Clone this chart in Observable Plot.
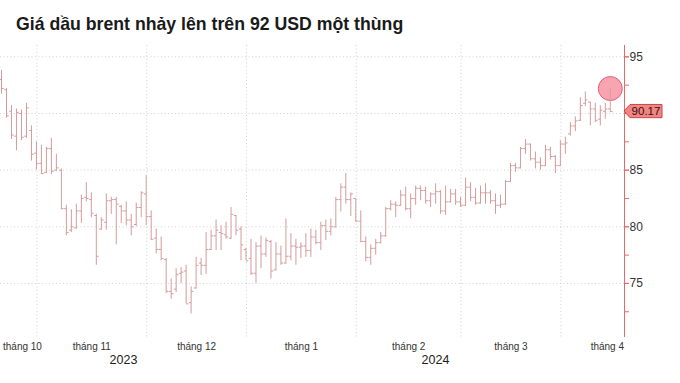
<!DOCTYPE html>
<html><head><meta charset="utf-8">
<script src="https://cdn.jsdelivr.net/npm/d3@7"></script>
<script src="https://cdn.jsdelivr.net/npm/@observablehq/plot@0.6"></script>
<style>
body{margin:0;background:#fff;width:680px;height:383px;overflow:hidden;font-family:"Liberation Sans",Arial,sans-serif}
#title{height:42px;box-sizing:border-box;padding:14px 0 0 16px;font-weight:bold;font-size:17.7px;line-height:20px;color:#1a1a1a;white-space:nowrap}
#chart svg{display:block}
</style></head><body>
<div id="title">Giá dầu brent nhảy lên trên 92 USD một thùng</div>
<div id="chart"></div>
<script>
const dates = [
"2023-10-20","2023-10-23","2023-10-24","2023-10-25","2023-10-26","2023-10-27","2023-10-30","2023-10-31",
"2023-11-01","2023-11-02","2023-11-03","2023-11-06","2023-11-07","2023-11-08","2023-11-09","2023-11-10","2023-11-13","2023-11-14","2023-11-15","2023-11-16","2023-11-17","2023-11-20","2023-11-21","2023-11-22","2023-11-23","2023-11-24","2023-11-27","2023-11-28","2023-11-29","2023-11-30",
"2023-12-01","2023-12-04","2023-12-05","2023-12-06","2023-12-07","2023-12-08","2023-12-11","2023-12-12","2023-12-13","2023-12-14","2023-12-15","2023-12-18","2023-12-19","2023-12-20","2023-12-21","2023-12-22","2023-12-26","2023-12-27","2023-12-28","2023-12-29",
"2024-01-02","2024-01-03","2024-01-04","2024-01-05","2024-01-08","2024-01-09","2024-01-10","2024-01-11","2024-01-12","2024-01-15","2024-01-16","2024-01-17","2024-01-18","2024-01-19","2024-01-22","2024-01-23","2024-01-24","2024-01-25","2024-01-26","2024-01-29","2024-01-30","2024-01-31",
"2024-02-01","2024-02-02","2024-02-05","2024-02-06","2024-02-07","2024-02-08","2024-02-09","2024-02-12","2024-02-13","2024-02-14","2024-02-15","2024-02-16","2024-02-19","2024-02-20","2024-02-21","2024-02-22","2024-02-23","2024-02-26","2024-02-27","2024-02-28","2024-02-29",
"2024-03-01","2024-03-04","2024-03-05","2024-03-06","2024-03-07","2024-03-08","2024-03-11","2024-03-12","2024-03-13","2024-03-14","2024-03-15","2024-03-18","2024-03-19","2024-03-20","2024-03-21","2024-03-22","2024-03-25","2024-03-26","2024-03-27","2024-03-28",
"2024-04-01","2024-04-02","2024-04-03","2024-04-04","2024-04-05","2024-04-08","2024-04-09","2024-04-10","2024-04-11","2024-04-12"];

const opens = [93.0,92.1,90.2,88.0,90.0,88.0,88.5,86.5,
85.6,84.8,86.9,85.0,85.0,81.6,79.7,79.9,81.4,82.6,82.4,81.0,79.8,80.4,82.3,82.4,81.8,81.4,80.6,80.2,81.7,82.9,
80.9,79.0,78.0,77.1,74.3,74.5,75.9,76.1,73.3,74.6,76.8,76.6,78.0,79.2,79.5,79.3,79.0,81.0,79.8,78.0,
77.2,75.9,78.3,77.6,78.7,76.2,77.6,76.8,77.4,78.3,78.2,78.3,77.9,79.1,78.6,80.1,79.6,80.0,82.4,83.5,82.4,82.5,
80.5,78.7,77.3,78.1,78.6,79.2,81.6,82.0,81.9,82.8,81.6,82.5,83.4,83.2,82.3,82.9,83.1,81.4,82.2,82.9,82.2,
81.9,83.5,82.6,82.1,83.0,83.0,82.3,81.9,82.0,84.0,85.4,85.2,86.9,87.3,86.0,85.7,85.4,86.8,86.2,85.4,
87.3,88.2,88.9,89.4,90.9,91.0,90.4,89.5,90.2,90.4];

const highs = [93.8,92.2,90.7,90.4,90.3,90.9,88.9,87.5,
87.2,87.0,87.8,86.4,85.1,81.9,81.5,82.0,82.8,83.9,83.0,81.1,80.8,82.9,82.6,82.6,81.9,82.2,81.1,82.1,83.1,84.5,
81.4,79.8,79.1,77.2,75.4,76.3,76.4,76.6,74.7,77.3,77.2,79.5,79.7,80.6,80.1,80.4,81.7,81.0,80.0,78.1,
78.9,78.6,79.2,79.0,78.8,78.6,78.3,80.7,79.4,78.9,78.6,79.4,79.8,79.7,80.4,80.6,80.7,82.6,83.8,84.7,83.0,82.5,
81.4,79.1,78.4,78.9,79.5,81.7,82.3,82.2,83.2,83.5,82.9,83.6,83.6,83.5,83.0,83.8,83.2,83.6,83.3,83.3,82.6,
84.3,83.9,83.4,83.6,83.8,83.2,82.9,82.8,84.1,85.6,85.6,87.0,87.7,87.3,86.6,86.1,87.2,87.0,86.3,87.6,
87.9,89.2,89.7,91.4,91.9,91.0,90.9,90.7,90.9,92.2];

const lows = [91.7,89.6,87.7,86.7,87.6,87.8,85.8,85.0,
84.6,84.7,84.6,84.9,81.5,79.2,79.5,79.8,80.3,82.2,80.8,76.6,79.7,79.7,81.1,78.4,80.3,80.1,79.2,80.0,80.8,80.1,
78.8,77.6,77.0,74.1,73.6,74.2,75.0,73.2,72.3,74.5,75.7,75.8,77.9,77.9,77.9,78.9,78.9,79.2,77.0,77.0,
75.7,75.0,76.3,77.3,75.4,76.1,76.6,76.7,77.0,76.6,77.2,77.3,77.3,78.4,77.9,78.8,79.2,79.9,81.3,82.0,80.9,80.4,
78.6,76.9,76.6,77.5,78.5,79.1,81.4,80.8,81.8,81.4,80.7,81.9,82.3,82.0,81.7,82.0,81.1,81.0,82.1,81.9,81.7,
81.8,82.2,81.9,82.0,82.0,82.0,81.1,81.6,81.9,83.9,84.8,85.1,86.4,85.8,85.1,85.0,85.3,85.9,84.7,85.3,
86.4,88.0,88.4,89.3,90.6,88.9,89.2,88.9,89.5,90.1];

const closes = [92.2,89.8,88.1,90.1,87.9,90.5,86.4,85.6,
84.7,86.9,84.9,85.2,81.6,79.5,80.0,81.4,82.5,82.5,81.2,77.4,80.6,82.3,82.4,82.0,81.4,80.6,80.0,81.7,83.0,80.9,
78.9,78.0,77.2,74.3,74.1,75.8,76.0,73.2,74.3,76.6,76.6,78.0,79.2,79.7,79.4,79.1,81.1,79.7,78.4,77.0,
75.9,78.3,77.6,78.8,76.1,77.6,76.8,77.4,78.3,78.2,78.3,77.9,79.1,78.6,80.1,79.6,80.0,82.4,83.5,82.4,82.9,80.5,
78.7,77.3,78.1,78.6,79.2,81.6,82.0,81.9,82.8,81.6,82.5,83.4,83.2,82.3,82.9,83.1,81.4,82.2,82.9,82.2,81.9,
83.5,82.6,82.1,83.0,83.0,82.3,81.9,82.0,84.0,85.4,85.2,86.9,87.3,86.0,85.7,85.4,86.8,86.2,85.4,87.3,
87.4,88.9,89.35,90.7,91.2,90.4,89.4,90.3,90.4,90.17];

const yTicks = [75, 80, 85, 90, 95];
const yMinorTicks = [72.5, 77.5, 82.5, 87.5, 92.5];
const monthLabels = ["tháng 10", "tháng 11", "tháng 12", "tháng 1", "tháng 2", "tháng 3", "tháng 4"];
const yearLabels = ["2023", "2024"];
const lastQuote = 90.17;

const rows = dates.map((d, i) => ({i, date: d, open: opens[i], high: highs[i], low: lows[i], close: closes[i]}));
const xDomain = [-0.2, dates.length - 1 + 2.85];

// month boundaries from dates
const monthStarts = [];
dates.forEach((d, i) => { if (i === 0 || d.slice(0, 7) !== dates[i - 1].slice(0, 7)) monthStarts.push(i); });
const bounds = monthStarts.map(i => i - 0.9);
const monthBounds = bounds.slice(1);
const monthPos = monthLabels.map((label, k) => {
  if (k === 0) return {label, x: xDomain[0] + 0.5, anchor: "start"};
  if (k === monthLabels.length - 1) return {label, x: xDomain[1] - 0.1, anchor: "end"};
  return {label, x: (bounds[k] + bounds[k + 1]) / 2, anchor: "middle"};
});
const yearStart = dates.findIndex(d => d.slice(0, 4) === "2024") - 0.9;
const yearPos = [
  {label: yearLabels[0], x: (xDomain[0] + yearStart) / 2},
  {label: yearLabels[1], x: (yearStart + xDomain[1]) / 2}
];
// the last-price badge covers the tick label next to it
const yTickLabels = yTicks.filter(t => Math.abs(t - lastQuote) > 1);

const barColor = "#d39c9c";
const red = "#e46a6a";
const gridColor = "#d2d2d2";
const last = rows[rows.length - 1];

const chart = Plot.plot({
  width: 680, height: 341,
  marginTop: 3, marginBottom: 46, marginLeft: 0, marginRight: 56,
  x: {domain: xDomain, axis: null},
  y: {domain: [70.23, 96], axis: null},
  style: {background: "transparent", fontFamily: "'Liberation Sans', Arial, sans-serif", overflow: "visible"},
  marks: [
    Plot.gridY(yTicks, {stroke: gridColor, strokeOpacity: 1, strokeDasharray: "1,2.5"}),
    Plot.ruleX(monthBounds, {stroke: gridColor, strokeDasharray: "1,2.5"}),
    Plot.dot([last], {x: "i", y: "high", r: 12, fill: "#f79aa8", fillOpacity: 0.9, stroke: "#e0607a", strokeWidth: 1}),
    Plot.ruleX(rows, {x: "i", y1: "low", y2: "high", stroke: barColor}),
    Plot.link(rows, {x1: d => d.i - 0.45, x2: "i", y1: "open", y2: "open", stroke: barColor}),
    Plot.link(rows, {x1: "i", x2: d => d.i + 0.45, y1: "close", y2: "close", stroke: barColor}),
    Plot.ruleX([xDomain[1]], {stroke: red}),
    Plot.axisY(yMinorTicks, {anchor: "right", tickSize: 4, stroke: red, tickFormat: () => ""}),
    Plot.axisY(yTicks, {anchor: "right", tickSize: 4, stroke: red, tickFormat: () => ""}),
    Plot.axisY(yTickLabels, {anchor: "right", tickSize: 4, tickPadding: 1, stroke: red, fill: "#333", fontSize: 12}),
    Plot.text(monthPos.filter(d => d.anchor === "middle"), {x: "x", text: "label", frameAnchor: "bottom", dy: 9.5, lineAnchor: "middle", textAnchor: "middle", fontSize: 10, fill: "#333"}),
    Plot.text(monthPos.filter(d => d.anchor === "start"), {x: "x", text: "label", frameAnchor: "bottom", dy: 9.5, lineAnchor: "middle", textAnchor: "start", fontSize: 10, fill: "#333"}),
    Plot.text(monthPos.filter(d => d.anchor === "end"), {x: "x", text: "label", frameAnchor: "bottom", dy: 9.5, lineAnchor: "middle", textAnchor: "end", fontSize: 10, fill: "#333"}),
    Plot.text(yearPos, {x: "x", text: "label", frameAnchor: "bottom", dy: 22.5, lineAnchor: "middle", textAnchor: "middle", fontSize: 12.5, fill: "#222"})
  ]
});
document.getElementById("chart").appendChild(chart);

// last-price badge on the right axis
const yS = chart.scale("y"), xS = chart.scale("x");
const cy = yS.apply(lastQuote), ax = xS.apply(xDomain[1]);
const g = d3.select(chart).append("g");
const h = 6.6;
g.append("path")
  .attr("d", `M${ax},${cy} L${ax + 6},${cy - h} L${ax + 38},${cy - h} L${ax + 38},${cy + h} L${ax + 6},${cy + h} Z`)
  .attr("fill", "#f08585").attr("stroke", "#c94646").attr("stroke-width", 1);
g.append("text").attr("x", ax + 22).attr("y", cy).attr("dy", "0.36em")
  .attr("text-anchor", "middle").attr("font-size", 11.5).attr("fill", "#3d0c0c")
  .attr("font-family", "'Liberation Sans', Arial, sans-serif").text(lastQuote.toFixed(2));
</script>
</body></html>
